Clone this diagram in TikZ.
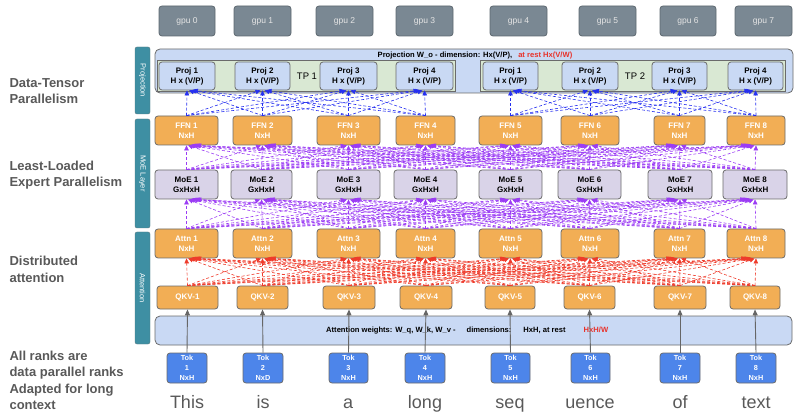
\documentclass[tikz,border=0pt]{standalone}
\usepackage{fontspec}
\setmainfont{Liberation Sans}
\usepackage{xcolor}
\usetikzlibrary{arrows.meta,positioning,calc}

\definecolor{gpufill}{HTML}{7A8893}
\definecolor{gpuline}{HTML}{5D6870}
\definecolor{barteal}{HTML}{3E8FA3}
\definecolor{orangebox}{HTML}{F2AE55}
\definecolor{lavbox}{HTML}{D9D3E8}
\definecolor{projblue}{HTML}{C9D9F4}
\definecolor{tpgreen}{HTML}{D9E8D3}
\definecolor{tokblue}{HTML}{4D85EA}
\definecolor{boxline}{HTML}{6B6B6B}
\definecolor{labelgray}{HTML}{595959}
\definecolor{redarrow}{HTML}{EE3B2B}
\definecolor{bluearrow}{HTML}{2630F0}
\definecolor{purplearrow}{HTML}{9B3CF4}
\definecolor{restred}{HTML}{E8322A}

\begin{document}
\begin{tikzpicture}[x=1pt,y=-1pt,
    box/.style={draw=boxline, line width=0.8pt, rounded corners=3pt, align=center,
        font=\bfseries\fontsize{8}{10}\selectfont, inner sep=0pt},
    gpubox/.style={box, fill=gpufill, draw=gpuline, text=white!90!black,
        font=\fontsize{8.5}{10}\selectfont, minimum height=30pt},
    projbox/.style={box, fill=projblue, minimum height=28pt},
    ffnbox/.style={box, fill=orangebox, text=white, minimum height=29pt},
    moebox/.style={box, fill=lavbox, minimum height=29pt},
    qkvbox/.style={box, fill=orangebox, text=white, minimum height=23pt},
    tokbox/.style={box, fill=tokblue, text=white, font=\bfseries\fontsize{7.3}{10}\selectfont, minimum height=30pt},
    band/.style={draw=boxline, line width=0.8pt, rounded corners=5pt, fill=projblue, inner sep=0pt},
    tpband/.style={draw=boxline, line width=0.6pt, fill=tpgreen, inner sep=0pt},
    sidebar/.style={draw=boxline!60!barteal, fill=barteal, rounded corners=2pt, rotate=-90, inner sep=0pt,
        minimum height=15pt, text=white, font=\fontsize{7.5}{8}\selectfont},
    sidelabel/.style={anchor=west, align=left, text=labelgray, font=\bfseries\fontsize{13}{16.5}\selectfont},
    word/.style={anchor=base, text=labelgray, font=\fontsize{18}{20}\selectfont},
    link/.style={dashed, dash pattern=on 3pt off 2pt, line width=0.6pt, -{Triangle[length=5pt,width=4.5pt]}},
    feed/.style={draw=gray!80!black, line width=0.9pt, -{Triangle[length=6pt,width=5pt]}}]
    \useasboundingbox (0,0) rectangle (802,419);

    \foreach \i/\a/\b in {0/159/215, 1/234/291, 2/316/373, 3/396/453, 4/490/547, 5/579/636, 6/660/716, 7/735/792}
        \node[gpubox, minimum width=\b-\a] (gpu\i) at ({(\a+\b)/2},21) {gpu \i};

    \node[sidebar, minimum width=67pt] (barproj) at (142.5,80.5) {Projection};
    \node[sidebar, minimum width=109pt] (barmoe) at (142.5,173.5) {MoE Layer};
    \node[sidebar, minimum width=112pt] (barattn) at (142.5,288) {Attention};

    \node[sidelabel] (lbldata) at (6,91) {Data-Tensor\\Parallelism};
    \node[sidelabel] (lblmoe) at (6,175) {Least-Loaded\\Expert Parallelism};
    \node[sidelabel] (lblattn) at (6,269.5) {Distributed\\attention};
    \node[sidelabel] (lblrank) at (6,380.5) {All ranks are\\data parallel ranks\\Adapted for long\\context};

    \node[band, minimum width=638pt, minimum height=44pt] (projband) at (474,71) {};
    \node[font=\bfseries\fontsize{7.6}{8}\selectfont, inner sep=0pt] (projtitle) at (475,56)
        {Projection W\_o - dimension: Hx(V/P),\hspace{6pt}\textcolor{restred}{at rest Hx(V/W)}};
    \node[tpband, minimum width=298pt, minimum height=31pt] (tp1) at (306,76) {};
    \node[tpband, minimum width=305pt, minimum height=31pt] (tp2) at (632.5,76) {};
    \node[font=\fontsize{9.5}{10}\selectfont] (tplbl1) at (307,76) {TP 1};
    \node[font=\fontsize{9.5}{10}\selectfont] (tplbl2) at (635,76) {TP 2};

    \foreach \i/\j/\a/\b in {1/1/159/215, 2/2/235/290, 3/3/320/377, 4/4/396/453,
                             5/1/483/538, 6/2/562/618, 7/3/652/707, 8/4/728/783}
        \node[projbox, minimum width=\b-\a] (proj\i) at ({(\a+\b)/2},76) {Proj \j\\H x (V/P)};

    \foreach \i/\a/\b in {1/155/218, 2/233/292, 3/317/380, 4/396/455, 5/479/542, 6/561/619, 7/654/705, 8/727/785}
        \node[ffnbox, minimum width=\b-\a] (ffn\i) at ({(\a+\b)/2},130.5) {FFN \i\\NxH};

    \foreach \i/\a/\b in {1/155/218, 2/231/292, 3/317/380, 4/394/457, 5/479/542, 6/558/621, 7/648/712, 8/723/787}
        \node[moebox, minimum width=\b-\a] (moe\i) at ({(\a+\b)/2},184.5) {MoE \i\\GxHxH};

    \foreach \i/\a/\b in {1/155/218, 2/233/292, 3/317/380, 4/396/455, 5/479/542, 6/561/619, 7/654/705, 8/727/785}
        \node[ffnbox, minimum width=\b-\a] (attn\i) at ({(\a+\b)/2},243.5) {Attn \i\\NxH};

    \foreach \i/\a/\b in {1/157/218, 2/237/288, 3/323/375, 4/400/452, 5/485/535, 6/564/615, 7/654/706, 8/730/780}
        \node[qkvbox, minimum width=\b-\a] (qkv\i) at ({(\a+\b)/2},297.5) {QKV-\i};

    \node[band, minimum width=637pt, minimum height=29pt] (wband) at (473.5,330.5) {};
    \node[anchor=west, font=\bfseries\fontsize{7.6}{8}\selectfont, inner sep=0pt] (wtitle) at (326,331)
        {Attention weights: W\_q, W\_k, W\_v -\hspace{11pt}dimensions:\hspace{12pt}HxH, at rest\hspace{18pt}\textcolor{restred}{HxH/W}};

    \foreach \i/\a/\b/\d in {1/167/207/NxH, 2/243/283/NxD, 3/329/368/NxH, 4/405/445/NxH,
                             5/491/530/NxH, 6/571/610/NxH, 7/660/700/NxH, 8/736/776/NxH}
        \node[tokbox, minimum width=\b-\a] (tok\i) at ({(\a+\b)/2},368) {Tok\\\i\\\d};

    \foreach \i/\w/\x in {1/This/187, 2/is/263, 3/a/348, 4/long/425, 5/seq/510, 6/uence/590, 7/of/680, 8/text/756}
        \node[word] (word\i) at (\x,408) {\w};

    \foreach \i in {1,...,8}
        \draw[feed] (tok\i.north) -- (qkv\i.south);

    \foreach \i in {1,...,8}
        \foreach \j in {1,...,8}
            \draw[link, redarrow] (qkv\i.north) -- ($(attn\j.south)+({(\i-\j)*1.4},0)$);

    \foreach \i in {1,...,8}
        \foreach \j in {1,...,8}
            \draw[link, purplearrow] (attn\i.north) -- ($(moe\j.south)+({(\i-\j)*1.4},0)$);

    \foreach \i in {1,...,8}
        \foreach \j in {1,...,8}
            \draw[link, purplearrow] (moe\i.north) -- ($(ffn\j.south)+({(\i-\j)*1.4},0)$);

    \foreach \a/\b in {1/4, 5/8}
        \foreach \i in {\a,...,\b}
            \foreach \j in {\a,...,\b}
                \draw[link, bluearrow] (ffn\i.north) -- ($(proj\j.south)+({(\i-\j)*2},0)$);
\end{tikzpicture}
\end{document}
